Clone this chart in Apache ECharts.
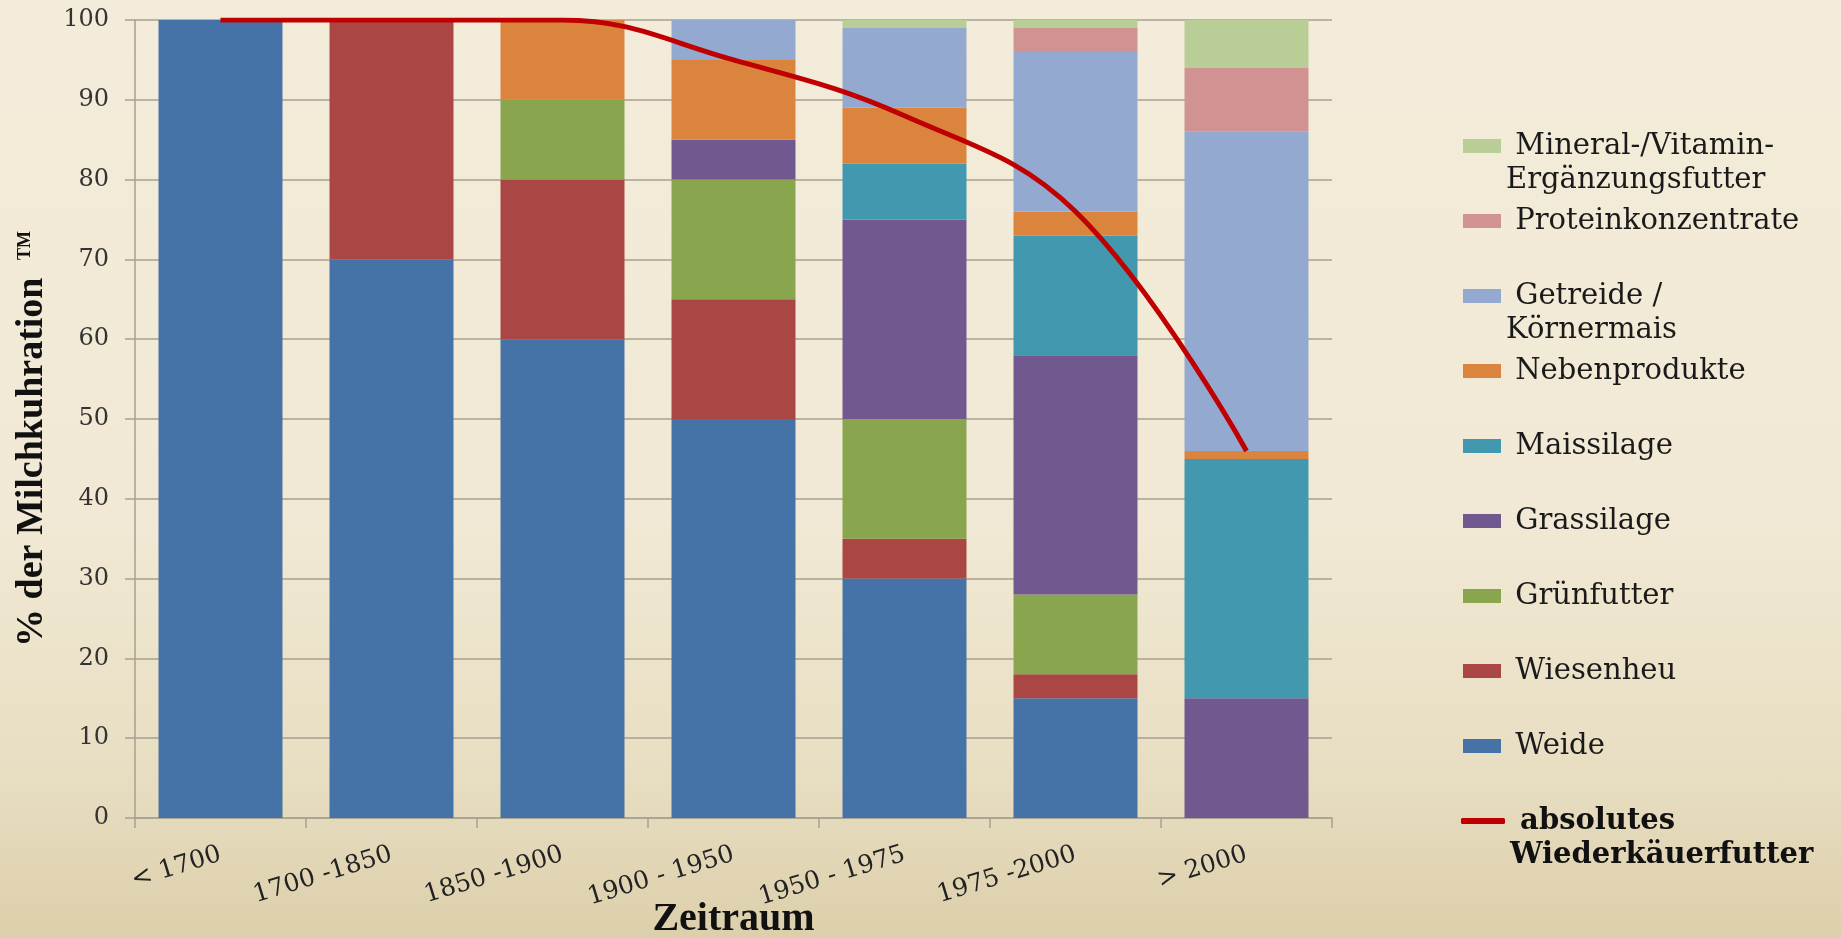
<!DOCTYPE html>
<html>
<head>
<meta charset="utf-8">
<script src="https://cdn.jsdelivr.net/npm/echarts@6/dist/echarts.min.js"></script>
<style>
  html, body { margin: 0; padding: 0; }
  body {
    width: 1841px; height: 938px; overflow: hidden;
    background: linear-gradient(to bottom, #f3ecda 0%, #f1e9d5 55%, #e8dec2 82%, #dccfab 100%);
  }
  #chart { width: 1841px; height: 938px; }
</style>
</head>
<body>
<div id="chart"></div>
<script>
// Zeiträume (x-Achse)
const periods = ['< 1700', '1700 -1850', '1850 -1900', '1900 - 1950', '1950 - 1975', '1975 -2000', '> 2000'];

// Anteile in % der Milchkuhration (TM), gestapelt von unten nach oben
const weide        = [100, 70, 60, 50, 30, 15, 0];
const wiesenheu    = [0, 30, 20, 15, 5, 3, 0];
const gruenfutter  = [0, 0, 10, 15, 15, 10, 0];
const grassilage   = [0, 0, 0, 5, 25, 30, 15];
const maissilage   = [0, 0, 0, 0, 7, 15, 30];
const nebenprod    = [0, 0, 10, 10, 7, 3, 1];
const getreide     = [0, 0, 0, 5, 10, 20, 40];
const protein      = [0, 0, 0, 0, 0, 3, 8];
const mineral      = [0, 0, 0, 0, 1, 1, 6];

// absolutes Wiederkäuerfutter (Linie)
const wiederkaeuer = [100, 100, 100, 95, 88, 76, 46];

const yTicks = { min: 0, max: 100, interval: 10 };

const stackDefs = [
  { name: 'Weide',                             lines: ['Weide'],                                 data: weide,       color: '#4572a7' },
  { name: 'Wiesenheu',                         lines: ['Wiesenheu'],                             data: wiesenheu,   color: '#aa4643' },
  { name: 'Grünfutter',                        lines: ['Grünfutter'],                            data: gruenfutter, color: '#89a54e' },
  { name: 'Grassilage',                        lines: ['Grassilage'],                            data: grassilage,  color: '#71588f' },
  { name: 'Maissilage',                        lines: ['Maissilage'],                            data: maissilage,  color: '#4198af' },
  { name: 'Nebenprodukte',                     lines: ['Nebenprodukte'],                         data: nebenprod,   color: '#db843d' },
  { name: 'Getreide / Körnermais',             lines: ['Getreide /', 'Körnermais'],              data: getreide,    color: '#93a9cf' },
  { name: 'Proteinkonzentrate',                lines: ['Proteinkonzentrate'],                    data: protein,     color: '#d19392' },
  { name: 'Mineral-/Vitamin-Ergänzungsfutter', lines: ['Mineral-/Vitamin-', 'Ergänzungsfutter'], data: mineral,     color: '#b9cd96' },
];
const lineName = 'absolutes Wiederkäuerfutter';
const lineLines = ['absolutes', 'Wiederkäuerfutter'];
const lineColor = '#c00000';

const SERIF = '"DejaVu Serif", "Liberation Serif", serif';
const TIMES = '"Liberation Serif", serif';
const GRID_COL = '#a7a190';
const LH = 34;

// two-line entries get an empty line on top so the icon sits on the first line
function legendText(lines) {
  if (lines.length === 1) return ' ' + lines[0];
  return '\n ' + lines[0] + '\n' + lines[1];
}

const legendTop = 146, legendStep = 75;
const legendOrder = stackDefs.slice().reverse();
const legends = legendOrder.map((d, i) => {
  const multi = d.lines.length > 1;
  const iconY = legendTop + i * legendStep;
  return {
    data: [d.name],
    left: 1463,
    top: multi ? iconY - LH * 1.5 : iconY - LH / 2,
    padding: 0,
    icon: 'rect',
    itemWidth: 38,
    itemHeight: 14,
    selectedMode: false,
    formatter: () => legendText(d.lines),
    textStyle: { fontFamily: SERIF, fontSize: 29, color: '#1a1a1a', lineHeight: LH }
  };
});
legends.push({
  data: [lineName],
  left: 1461,
  top: legendTop + legendOrder.length * legendStep - LH * 1.5,
  padding: 0,
  icon: 'roundRect',
  itemWidth: 44,
  itemHeight: 6,
  selectedMode: false,
  itemStyle: { color: lineColor },
  formatter: () => legendText(lineLines),
  textStyle: { fontFamily: SERIF, fontSize: 29, fontWeight: 'bold', color: '#111', lineHeight: LH }
});

const chart = echarts.init(document.getElementById('chart'), null, { renderer: 'canvas' });

const series = stackDefs.map(d => ({
  name: d.name,
  type: 'bar',
  stack: 'ration',
  data: d.data,
  barCategoryGap: '27.5%',
  itemStyle: { color: d.color },
  emphasis: { disabled: true }
}));
series.push({
  name: lineName,
  type: 'line',
  data: wiederkaeuer,
  smooth: 0.4,
  showSymbol: false,
  lineStyle: { color: lineColor, width: 5 },
  itemStyle: { color: lineColor },
  z: 10
});

chart.setOption({
  backgroundColor: 'transparent',
  animation: false,
  grid: { left: 135, right: 509, top: 20, bottom: 120, containLabel: false, outerBoundsMode: 'none' },
  legend: legends,
  xAxis: {
    type: 'category',
    data: periods,
    name: 'Zeitraum',
    nameLocation: 'middle',
    nameGap: 82,
    nameMoveOverlap: false,
    nameTextStyle: { fontFamily: TIMES, fontWeight: 'bold', fontSize: 40, color: '#111' },
    axisLine: { lineStyle: { color: GRID_COL, width: 1.5 } },
    axisTick: { show: true, length: 10, lineStyle: { color: GRID_COL, width: 1.5 } },
    axisLabel: { rotate: 17, margin: 36, fontFamily: SERIF, fontSize: 25, color: '#222' }
  },
  yAxis: {
    type: 'value',
    min: yTicks.min, max: yTicks.max, interval: yTicks.interval,
    name: '% der Milchkuhration {tm|TM}',
    nameLocation: 'middle',
    nameGap: 84,
    nameMoveOverlap: false,
    nameTextStyle: {
      fontFamily: TIMES, fontWeight: 'bold', fontSize: 38, color: '#111',
      padding: [0, 40, 0, 0],
      rich: { tm: { fontFamily: TIMES, fontWeight: 'bold', fontSize: 18, color: '#111', padding: [0, 0, 14, 8] } }
    },
    axisLine: { show: true, lineStyle: { color: GRID_COL, width: 1.5 } },
    axisTick: { show: true, length: 10, lineStyle: { color: GRID_COL, width: 1.5 } },
    splitLine: { lineStyle: { color: GRID_COL, width: 1.5 } },
    axisLabel: { margin: 26, fontFamily: SERIF, fontSize: 24, color: '#333' }
  },
  series
});
</script>
</body>
</html>
